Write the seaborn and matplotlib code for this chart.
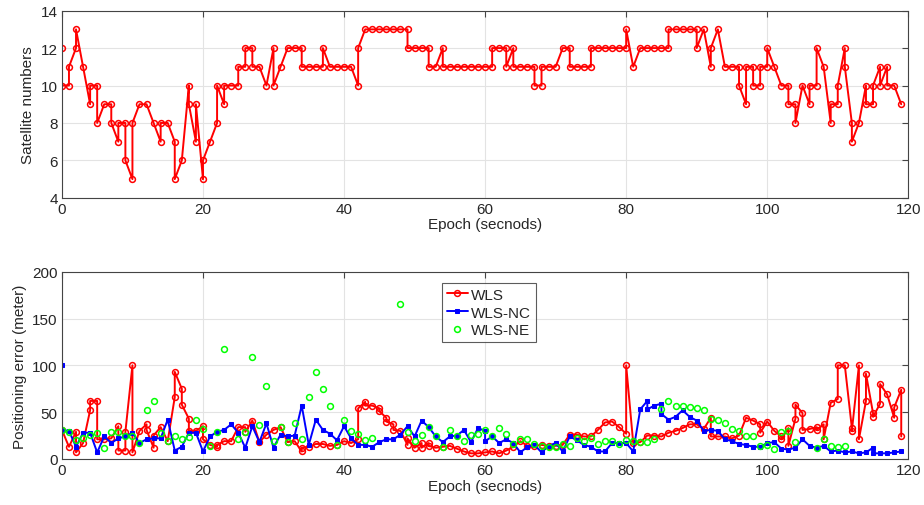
# Satellite numbers and positioning error per epoch
import matplotlib
matplotlib.use("Agg")
import matplotlib.pyplot as plt
import seaborn as sns

# -------------------------------
# data (epochs repeat where two values share one epoch)
# -------------------------------
sat_epoch = [0, 0, 1, 1, 2, 2, 3, 4, 4, 5, 5, 6, 7, 7, 8, 8, 9, 9, 10, 10,
             11, 12, 13, 14, 14, 15, 16, 16, 17, 18, 18, 19, 19, 20, 20, 21, 22, 22, 23, 23,
             24, 25, 25, 26, 26, 27, 27, 28, 29, 30, 30, 31, 32, 33, 34, 34, 35, 36, 37, 37,
             38, 39, 40, 41, 42, 42, 43, 44, 45, 46, 47, 48, 49, 49, 50, 51, 52, 52, 53, 54,
             54, 55, 56, 57, 58, 59, 60, 61, 61, 62, 63, 63, 64, 64, 65, 66, 67, 67, 68, 68,
             69, 70, 71, 72, 72, 73, 74, 75, 75, 76, 77, 78, 79, 80, 80, 81, 82, 83, 84, 85,
             86, 86, 87, 88, 89, 90, 90, 91, 92, 92, 93, 94, 95, 96, 96, 97, 97, 98, 98, 99,
             99, 100, 100, 101, 102, 103, 103, 104, 104, 105, 106, 106, 107, 107, 108, 109, 109, 110, 110, 111,
             111, 112, 112, 113, 114, 114, 115, 115, 116, 116, 117, 117, 118, 119]
sat_num = [12, 10, 10, 11, 12, 13, 11, 9, 10, 10, 8, 9, 9, 8, 7, 8, 8, 6, 5, 8,
           9, 9, 8, 7, 8, 8, 7, 5, 6, 10, 9, 7, 9, 5, 6, 7, 8, 10, 9, 10,
           10, 10, 11, 11, 12, 12, 11, 11, 10, 12, 10, 11, 12, 12, 12, 11, 11, 11, 11, 12,
           11, 11, 11, 11, 10, 12, 13, 13, 13, 13, 13, 13, 13, 12, 12, 12, 12, 11, 11, 12,
           11, 11, 11, 11, 11, 11, 11, 11, 12, 12, 12, 11, 12, 11, 11, 11, 11, 10, 10, 11,
           11, 11, 12, 12, 11, 11, 11, 11, 12, 12, 12, 12, 12, 12, 13, 11, 12, 12, 12, 12,
           12, 13, 13, 13, 13, 13, 12, 13, 11, 12, 13, 11, 11, 11, 10, 9, 11, 11, 10, 10,
           11, 11, 12, 11, 10, 10, 9, 9, 8, 10, 9, 10, 10, 12, 11, 8, 9, 9, 10, 12,
           11, 8, 7, 8, 10, 9, 9, 10, 11, 10, 11, 10, 10, 9]

wls_epoch = [0, 1, 2, 2, 3, 4, 4, 5, 5, 6, 7, 8, 8, 9, 9, 10, 10, 11, 12, 12,
             13, 13, 14, 15, 16, 16, 17, 17, 18, 18, 19, 20, 20, 21, 22, 22, 23, 24, 25, 26,
             26, 27, 28, 29, 30, 31, 32, 33, 34, 34, 35, 36, 37, 38, 39, 40, 41, 42, 42, 43,
             43, 44, 45, 45, 46, 46, 47, 47, 48, 49, 49, 50, 51, 51, 52, 52, 53, 54, 55, 56,
             57, 58, 59, 60, 61, 62, 63, 64, 65, 66, 67, 68, 69, 70, 71, 72, 73, 74, 75, 76,
             77, 78, 79, 80, 80, 81, 82, 83, 84, 85, 86, 87, 88, 89, 90, 91, 92, 92, 93, 94,
             95, 96, 97, 98, 99, 99, 100, 101, 102, 102, 103, 103, 104, 104, 105, 105, 106, 107, 107, 108,
             108, 109, 110, 110, 111, 112, 112, 113, 113, 114, 114, 115, 115, 116, 116, 117, 118, 118, 119, 119]
wls_err = [31, 13, 29, 7, 17, 52, 62, 62, 21, 21, 22, 35, 9, 9, 29, 100, 7, 30, 37, 31,
           12, 25, 34, 19, 66, 93, 75, 58, 43, 30, 30, 35, 21, 15, 13, 15, 19, 19, 34, 34,
           29, 41, 18, 26, 31, 34, 18, 19, 8, 12, 13, 16, 16, 14, 15, 19, 17, 21, 54, 61,
           57, 57, 54, 51, 44, 40, 37, 31, 30, 15, 22, 12, 17, 12, 17, 14, 12, 13, 14, 11,
           8, 6, 6, 7, 8, 6, 9, 13, 19, 14, 14, 15, 14, 14, 15, 26, 26, 24, 24, 31,
           39, 40, 34, 27, 100, 17, 18, 25, 25, 24, 28, 30, 33, 37, 37, 32, 44, 24, 24, 24,
           22, 25, 44, 41, 37, 28, 40, 30, 24, 21, 33, 14, 43, 58, 49, 31, 32, 34, 31, 37,
           21, 60, 64, 100, 100, 33, 30, 100, 21, 62, 91, 49, 45, 59, 80, 69, 44, 55, 74, 24]

nc_epoch = [0, 0, 1, 2, 3, 4, 5, 6, 7, 8, 9, 10, 11, 12, 13, 14, 15, 16, 17, 18,
            19, 20, 21, 22, 23, 24, 25, 26, 27, 28, 29, 30, 31, 32, 33, 34, 35, 36, 37, 38,
            39, 40, 41, 42, 43, 44, 45, 46, 47, 48, 49, 50, 51, 52, 53, 54, 55, 56, 57, 58,
            59, 60, 60, 61, 62, 63, 64, 65, 66, 67, 68, 69, 70, 71, 72, 73, 74, 75, 76, 77,
            78, 79, 80, 81, 82, 83, 83, 84, 85, 85, 86, 87, 88, 89, 90, 91, 92, 93, 94, 95,
            96, 97, 98, 99, 100, 101, 102, 103, 104, 105, 106, 107, 108, 109, 110, 111, 112, 113, 114, 115,
            115, 116, 117, 118, 119]
nc_err = [100, 31, 30, 13, 28, 28, 7, 24, 17, 22, 24, 28, 17, 21, 22, 22, 42, 9, 13, 28,
          28, 8, 24, 29, 31, 37, 28, 12, 35, 18, 38, 12, 26, 24, 25, 57, 15, 42, 31, 27,
          20, 35, 22, 15, 15, 13, 18, 21, 21, 26, 35, 24, 41, 34, 24, 18, 24, 25, 31, 18,
          33, 30, 19, 24, 17, 21, 17, 7, 13, 15, 7, 14, 17, 8, 24, 20, 15, 13, 8, 8,
          17, 17, 17, 8, 53, 62, 53, 57, 59, 48, 42, 45, 52, 45, 41, 30, 31, 30, 21, 19,
          16, 15, 13, 13, 17, 18, 11, 10, 12, 21, 14, 12, 14, 8, 9, 7, 8, 6, 7, 12,
          6, 6, 6, 7, 8]

ne_epoch = [0, 1, 2, 3, 4, 5, 6, 7, 8, 9, 10, 11, 12, 13, 14, 15, 16, 17, 18, 19,
            20, 21, 22, 23, 25, 26, 27, 28, 29, 30, 31, 32, 33, 34, 35, 36, 37, 38, 39, 40,
            41, 42, 43, 44, 48, 49, 50, 51, 52, 53, 54, 55, 56, 57, 58, 59, 60, 61, 62, 63,
            64, 65, 66, 67, 68, 69, 70, 71, 72, 73, 74, 75, 76, 77, 78, 79, 80, 81, 82, 83,
            84, 85, 86, 87, 88, 89, 90, 91, 92, 93, 94, 95, 96, 97, 98, 99, 100, 101, 102, 103,
            104, 107, 108, 109, 110, 111]
ne_err = [31, 29, 20, 22, 26, 28, 12, 29, 29, 24, 24, 17, 52, 62, 28, 19, 24, 21, 23, 42,
          32, 14, 29, 117, 21, 29, 109, 36, 78, 19, 34, 18, 38, 21, 66, 93, 75, 57, 15, 42,
          30, 27, 20, 22, 165, 29, 19, 26, 34, 24, 13, 31, 24, 19, 26, 27, 31, 24, 33, 27,
          16, 21, 21, 16, 14, 13, 13, 16, 14, 22, 19, 22, 16, 19, 19, 16, 20, 19, 18, 18,
          21, 53, 62, 57, 57, 56, 54, 52, 43, 42, 38, 32, 30, 25, 25, 14, 15, 11, 29, 30,
          18, 12, 21, 14, 13, 14]

# -------------------------------
# figure
# -------------------------------
sns.set_style("white")
plt.rcParams['font.family'] = ['Liberation Sans', 'DejaVu Sans']

fig = plt.figure(figsize=(9.24, 5.06), dpi=100)
ax1 = fig.add_axes([0.067, 0.607, 0.916, 0.37])
ax2 = fig.add_axes([0.067, 0.091, 0.916, 0.37])

# 1. Satellite numbers
sns.lineplot(x=sat_epoch, y=sat_num, ax=ax1, estimator=None, sort=False,
             color='red', lw=1.4, marker='o', ms=4.2, mfc='none', mec='red', mew=1.1)
ax1.set_xlim(0, 120)
ax1.set_ylim(4, 14)
ax1.set_yticks(range(4, 15, 2))
ax1.set_ylabel("Satellite numbers", fontsize=11)

# 2. Positioning error
sns.lineplot(x=wls_epoch, y=wls_err, ax=ax2, estimator=None, sort=False,
             color='red', lw=1.4, marker='o', ms=4.2, mfc='none', mec='red', mew=1.1,
             label='WLS')
sns.lineplot(x=nc_epoch, y=nc_err, ax=ax2, estimator=None, sort=False,
             color='blue', lw=1.4, marker='s', ms=3.5, mfc='blue', mec='blue',
             label='WLS-NC')
sns.lineplot(x=ne_epoch, y=ne_err, ax=ax2, estimator=None, sort=False,
             color='#00ff00', ls='', marker='o', ms=4.2, mfc='none', mec='#00ff00', mew=1.1,
             label='WLS-NE')
ax2.set_xlim(0, 120)
ax2.set_ylim(0, 200)
ax2.set_yticks(range(0, 201, 50))
ax2.set_ylabel("Positioning error (meter)", fontsize=11)
leg = ax2.legend(loc='upper left', bbox_to_anchor=(0.44, 0.98), fontsize=11,
                 frameon=True, fancybox=False, edgecolor='#333333',
                 handlelength=1.4, borderpad=0.3, labelspacing=0.25, handletextpad=0.2)
leg.get_frame().set_linewidth(0.8)

for ax in (ax1, ax2):
    ax.set_xticks(range(0, 121, 20))
    ax.set_xlabel("Epoch (secnods)", fontsize=11, labelpad=1)
    ax.grid(True, color='#e3e3e3', lw=0.8)
    ax.tick_params(direction='in', top=True, right=True, labelsize=11,
                   length=4, color='#444444', pad=3)
    for s in ax.spines.values():
        s.set_color('#444444')
        s.set_linewidth(0.8)

plt.savefig("out.png", dpi=100)
